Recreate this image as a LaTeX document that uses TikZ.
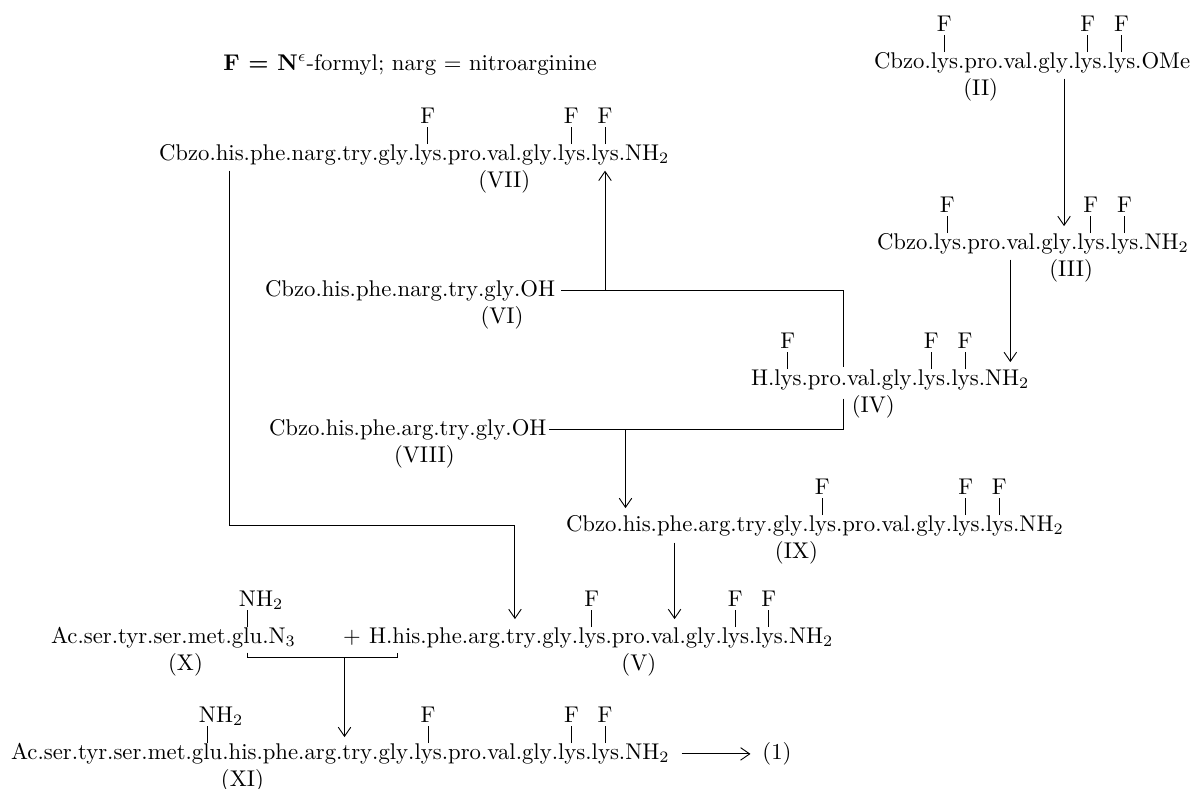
\documentclass[tikz,border=0pt]{standalone}
\usepackage{amsmath}
\usetikzlibrary{calc,positioning,arrows.meta}

\tikzset{
  res/.style={inner sep=0pt, outer sep=0pt, text height=7pt, text depth=2.5pt},
  sub/.style={inner sep=0pt, outer sep=0pt},
  lab/.style={inner sep=0pt, outer sep=0pt, anchor=base},
  >={Straight Barb[length=4pt,width=5.5pt]},
}

\newcommand\peptide[3]{%
  \foreach \rname [count=\idx] in {#3}{%
    \ifnum\idx=1
      \node[res, anchor=base west] (#1-\idx) at (#2) {\rname};
    \else
      \pgfmathtruncatemacro\prev{\idx-1}
      \node[res, anchor=base west] (#1-\idx) at (#1-\prev.base east) {\rname};
    \fi
  }%
}
\newcommand\formyl[1]{%
  \node[sub, anchor=base] (#1-F) at ($(#1.north)+(3,-21)$) {F};
  \draw ($(#1.north)+(3,0)$) -- ($(#1-F.base)+(0,4)$);
}
\newcommand\amino[1]{%
  \node[sub, anchor=base west] (#1-N) at ($(#1.north)+(-5,-21)$) {NH$_2$};
  \draw ($(#1.north)+(3,0)$) -- ($(#1-N.base west)+(8,4)$);
}

\begin{document}
\begin{tikzpicture}[x=0.44pt,y=-0.44pt]
    \useasboundingbox (0,0) rectangle (1193,788);
    \node[anchor=base] (legend) at (410,70) {\textbf{F = N}$^{\epsilon}$-formyl; narg = nitroarginine};

    \peptide{II}{874,68}{Cbzo,.lys,.pro,.val,.gly,.lys,.lys,.OMe}
    \formyl{II-2}\formyl{II-6}\formyl{II-7}
    \node[lab] (II-l) at ($(II-3.base)+(3,27)$) {(II)};

    \peptide{VII}{159,160}{Cbzo,.his,.phe,.narg,.try,.gly,.lys,.pro,.val,.gly,.lys,.lys,.NH$_2$}
    \formyl{VII-7}\formyl{VII-11}\formyl{VII-12}
    \node[lab] (VII-l) at ($(VII-9.base)+(6,27)$) {(VII)};

    \peptide{III}{877,249}{Cbzo,.lys,.pro,.val,.gly,.lys,.lys,.NH$_2$}
    \formyl{III-2}\formyl{III-6}\formyl{III-7}
    \node[lab] (III-l) at ($(III-5.base east)+(0,27)$) {(III)};

    \peptide{VI}{265,296}{Cbzo,.his,.phe,.narg,.try,.gly,.OH}
    \node[lab] (VI-l) at ($(VI-6.base)+(6,27)$) {(VI)};

    \peptide{IV}{751,385}{H,.lys,.pro,.val,.gly,.lys,.lys,.NH$_2$}
    \formyl{IV-2}\formyl{IV-6}\formyl{IV-7}
    \node[lab, anchor=base west] (IV-l) at ($(IV-4.base west)+(11,27)$) {(IV)};

    \peptide{VIII}{269,435}{Cbzo,.his,.phe,.arg,.try,.gly,.OH}
    \node[lab] (VIII-l) at ($(VIII-4.base)+(10,27)$) {(VIII)};

    \peptide{IX}{566,531}{Cbzo,.his,.phe,.arg,.try,.gly,.lys,.pro,.val,.gly,.lys,.lys,.NH$_2$}
    \formyl{IX-7}\formyl{IX-11}\formyl{IX-12}
    \node[lab] (IX-l) at ($(IX-6.base east)+(-6,27)$) {(IX)};

    \peptide{X}{51,643}{Ac,.ser,.tyr,.ser,.met,.glu,.N$_3$}
    \amino{X-6}
    \node[lab] (X-l) at ($(X-4.base east)+(4,27)$) {(X)};
    \node[res, anchor=base] (plus) at (352,643) {$+$};

    \peptide{V}{369,643}{H,.his,.phe,.arg,.try,.gly,.lys,.pro,.val,.gly,.lys,.lys,.NH$_2$}
    \formyl{V-7}\formyl{V-11}\formyl{V-12}
    \node[lab] (V-l) at ($(V-8.base east)+(-6,27)$) {(V)};

    \peptide{XI}{11,759}{Ac,.ser,.tyr,.ser,.met,.glu,.his,.phe,.arg,.try,.gly,.lys,.pro,.val,.gly,.lys,.lys,.NH$_2$}
    \amino{XI-6}\formyl{XI-12}\formyl{XI-16}\formyl{XI-17}
    \node[lab] (XI-l) at ($(XI-7.base)+(3,27)$) {(XI)};
    \node[res, anchor=base] (one) at (777,759) {(1)};

    % II -> III -> IV
    \coordinate (a2) at ($(II-5.south east)+(-4,5)$);
    \coordinate (t3) at ($(III-1.north)+(0,-7)$);
    \draw[->] (a2) -- (a2 |- t3);
    \coordinate (a3) at ($(III-4.south west)+(10,5)$);
    \coordinate (t4) at ($(IV-1.north)+(0,-7)$);
    \draw[->] (a3) -- (a3 |- t4);

    % VI + IV -> VII, VIII + IV -> IX
    \coordinate (iv) at ($(IV-4.north west)+(3,-2)$);
    \draw ($(VI-7.east)+(6,0)$) -| (iv);
    \draw ($(IV-4.south west)+(3,8)$) |- ($(VIII-7.east)+(3,0)$);
    \coordinate (up) at ($(VII-12.south)+(3,5)$);
    \draw[->] (up |- VI-7.east) -- (up);
    \coordinate (dn) at ($(IX-2.north west)+(9,-7)$);
    \draw[->] (dn |- VIII-7.east) -- (dn);

    % VII -> V, IX -> V
    \coordinate (dv) at ($(V-5.north)+(-3,-8)$);
    \draw[->] ($(VII-2.south)+(3,5)$) |- (dv |- IX-1.east) -- (dv);
    \coordinate (p9) at ($(IX-3.south)+(3,6)$);
    \draw[->] (p9) -- (p9 |- dv);

    % X + V -> XI -> (1)
    \coordinate (hl) at ($(X-6.south)+(3,4)$);
    \coordinate (hr) at ($(V-2.south west)+(11,4)$);
    \draw (hl) -- ++(0,5) -| (hr);
    \coordinate (hm) at ($(hl)!0.65!(hr)+(0,5)$);
    \coordinate (xt) at ($(XI-1.north)+(0,-6)$);
    \draw[->] (hm) -- (hm |- xt);
    \draw[->] ($(XI-18.east)+(12,0)$) -- ($(one.west)+(-12,0)$);
\end{tikzpicture}
\end{document}
